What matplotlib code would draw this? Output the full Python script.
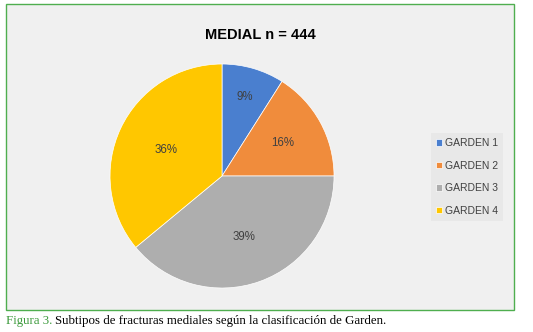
import numpy as np
import matplotlib.pyplot as plt
from matplotlib.patches import Rectangle

labels = ["GARDEN 1", "GARDEN 2", "GARDEN 3", "GARDEN 4"]
shares = [9, 16, 39, 36]
colors = ["#4a7fcf", "#f08c3c", "#aeaeae", "#ffc700"]
title = "MEDIAL n = 444"

plt.rcParams["font.family"] = ["Liberation Sans", "DejaVu Sans"]

fig = plt.figure(figsize=(5.33, 3.32), dpi=100)
fig.patch.set_facecolor("white")

# green frame with light gray chart area
fig.patches.append(Rectangle((6 / 533, 1 - 310 / 332), 508 / 533, 306 / 332,
                             transform=fig.transFigure, facecolor="#f0f0f0",
                             edgecolor="#4fae4f", linewidth=1.0, zorder=-5))

ax = fig.add_axes([0.2064, 0.1325, 0.4203, 0.6747])
ax.set_facecolor("none")
wedges, texts, autotexts = ax.pie(
    shares, colors=colors, startangle=90, counterclock=False,
    autopct="%1.0f%%", pctdistance=0.63,
    wedgeprops={"edgecolor": "white", "linewidth": 0.5},
    textprops={"fontsize": 8.3, "color": "#404040"})
ax.set_aspect("equal")
ax.set_xlim(-1, 1)
ax.set_ylim(-1, 1)
ax.axis("off")

# excel-like label placement: push each label along its wedge bisector
for w, t, d in zip(wedges, autotexts, [0.73, 0.62, 0.58, 0.55]):
    ang = np.deg2rad((w.theta1 + w.theta2) / 2)
    t.set_position((d * np.cos(ang), d * np.sin(ang)))

fig.text(260 / 533, 1 - 35 / 332, title, ha="center", va="center",
         fontsize=10.5, fontweight="bold", color="black")

leg = fig.legend(wedges, labels, loc="center", bbox_to_anchor=(467 / 533, 1 - 177 / 332),
                 frameon=True, fontsize=7.5, handlelength=0.6, handleheight=0.6,
                 handletextpad=0.3, labelspacing=1.2, borderpad=0.5,
                 labelcolor="#404040")
leg.get_frame().set_facecolor("#e6e6e6")
leg.get_frame().set_edgecolor("none")
leg.get_frame().set_boxstyle("square", pad=0)

# caption below the frame
cap1 = fig.text(6 / 533, 1 - 321 / 332, "Figura 3.", ha="left", va="center",
                fontsize=9.3, color="#3d9b3d", family="Liberation Serif")
r = fig.canvas.get_renderer()
bb = cap1.get_window_extent(renderer=r)
fig.text((bb.x1 + 3) / 533, 1 - 321 / 332,
         "Subtipos de fracturas mediales según la clasificación de Garden.",
         ha="left", va="center", fontsize=9.3, color="black", family="Liberation Serif")

plt.savefig("out.png", dpi=100)
plt.close()
